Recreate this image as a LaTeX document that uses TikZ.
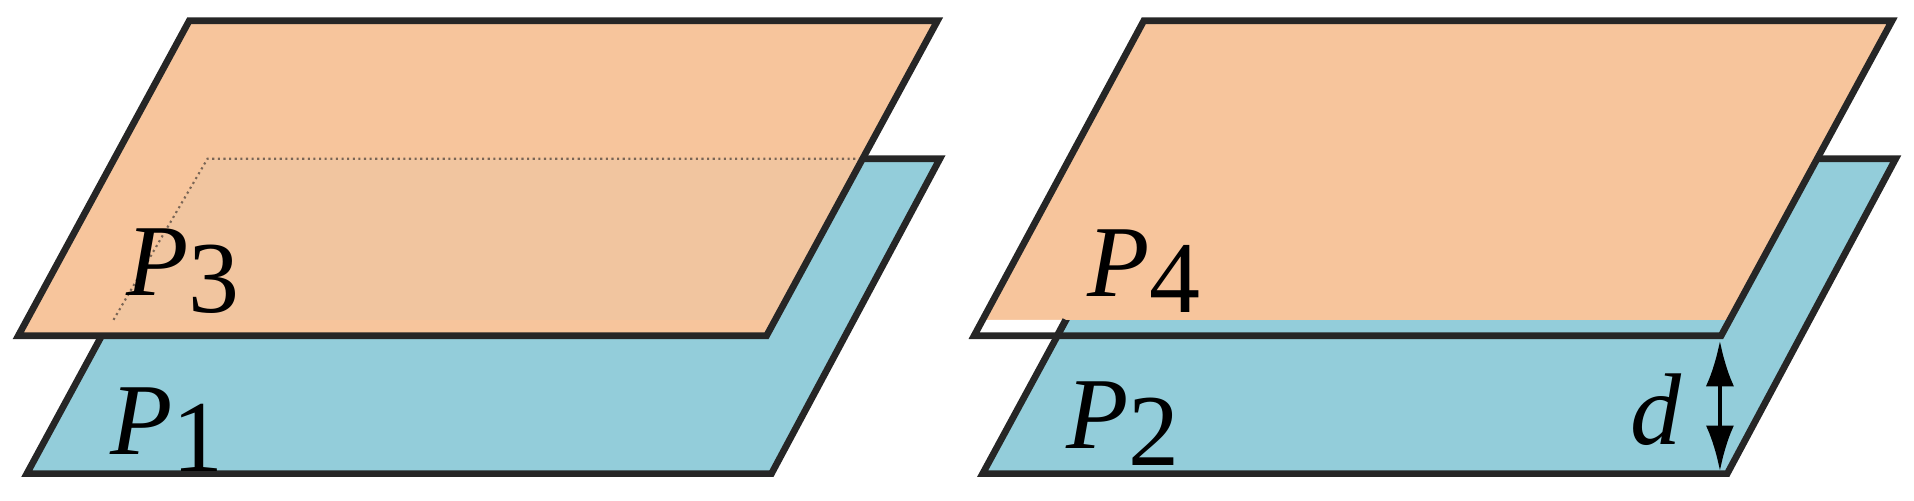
\documentclass[tikz,border=0pt]{standalone}
\usepackage{fontspec}
\setmainfont{Liberation Serif}
\usetikzlibrary{arrows.meta}
\definecolor{org}{HTML}{F7C59C}
\definecolor{blu}{HTML}{93CDDA}
\definecolor{edg}{HTML}{262626}
\tikzset{plane/.style={draw=edg,line width=1.9pt,line join=miter},
 lab/.style={font=\fontsize{29}{32}\selectfont,inner sep=0pt}}
\begin{document}
\begin{tikzpicture}[x=0.012207cm,y=-0.012207cm]
\useasboundingbox (0,0) rectangle (1568,410.4);
% ---------- left ----------
\path[plane,fill=blu] (162,130) -- (770,130) -- (632,388) -- (22,388) -- cycle;
\fill[org] (155,17) -- (768,17) -- (628,275) -- (15,275) -- cycle;
\fill[blu,opacity=0.06] (170,130) -- (704,130) -- (634,262) -- (93,262) -- cycle;
\draw[edg!60!org,densely dotted,line width=0.6pt] (93,262) -- (170,130) -- (704,130);
\draw[plane] (155,17) -- (768,17) -- (628,275) -- (15,275) -- cycle;
\node[lab] (p3) at (150,222) {\textit{P}\raisebox{-0.35ex}{3}};
\node[lab] (p1) at (137,352) {\textit{P}\raisebox{-0.35ex}{1}};
% ---------- right ----------
\path[plane,fill=blu] (945,130) -- (1553,130) -- (1415,388) -- (805,388) -- cycle;
\fill[org] (937,17) -- (1550,17) -- (1417,262) -- (805,262) -- cycle;
\fill[white] (805,262) -- (873,262) -- (866,275) -- (798,275) -- cycle;
\draw[plane] (873,262) -- (866,275);
\draw[plane] (937,17) -- (1550,17) -- (1410,275) -- (798,275) -- cycle;
\coordinate (dt) at (1409,279);
\coordinate (db) at (1409,386);
\draw[line width=1.3pt,{Latex[length=13pt,width=8pt]}-{Latex[length=13pt,width=8pt]}] (dt) -- (db);
\node[lab] (d) at (1357,336) {\textit{d}};
\node[lab] (p4) at (937,222) {\textit{P}\raisebox{-0.35ex}{4}};
\node[lab] (p2) at (920,347) {\textit{P}\raisebox{-0.35ex}{2}};
\end{tikzpicture}
\end{document}
